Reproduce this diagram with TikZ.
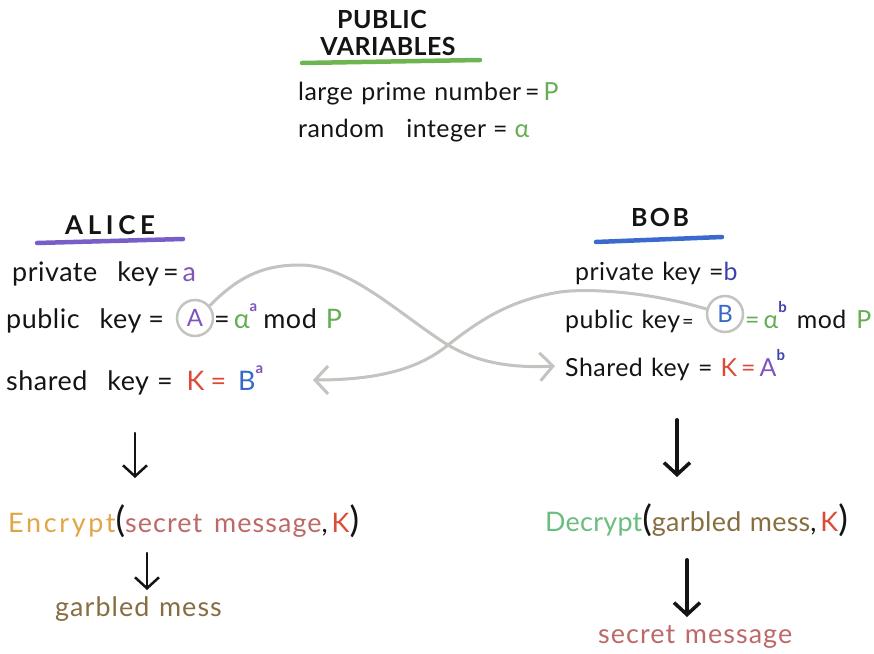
\documentclass[tikz,border=0pt]{standalone}
\usepackage{fontspec}
\setmainfont[WordSpace=1.2,LetterSpace=2]{Lato}
\usetikzlibrary{arrows.meta}
\definecolor{pgreen}{RGB}{100,175,85}
\definecolor{apurple}{RGB}{125,85,190}
\definecolor{bblue}{RGB}{55,105,200}
\definecolor{bnavy}{RGB}{60,65,175}
\definecolor{kred}{RGB}{220,75,55}
\definecolor{encorange}{RGB}{225,165,70}
\definecolor{msgpink}{RGB}{190,105,105}
\definecolor{garbrown}{RGB}{135,110,65}
\definecolor{decgreen}{RGB}{105,190,125}
\definecolor{curvegray}{RGB}{195,195,192}
\definecolor{ink}{RGB}{20,20,20}
\definecolor{ulgreen}{RGB}{110,180,80}
\definecolor{ulpurple}{RGB}{120,95,200}
\definecolor{ulblue}{RGB}{60,105,205}
\newcommand{\sups}[1]{\raisebox{0.62em}{\fontsize{15}{15}\selectfont\bfseries #1}}
\newcommand{\bigpar}[1]{{\fontsize{36}{36}\selectfont #1}}
\newcommand{\gap}{\hspace{12bp}}
\newcommand{\wgap}{\hspace{20bp}}
\newcommand{\tq}{\kern4bp}
\tikzset{
  txt/.style={anchor=base west, inner sep=0pt, text=ink, font=\fontsize{27}{30}\selectfont},
  btxt/.style={txt, font=\fontsize{25}{29}\selectfont},
  pubtxt/.style={txt, font=\fontsize{25}{28}\selectfont},
  lowtxt/.style={txt, font=\fontsize{27}{30}\selectfont\addfontfeature{LetterSpace=4}},
  dectxt/.style={txt, font=\fontsize{27}{30}\selectfont\addfontfeature{LetterSpace=1}},
  ttl/.style={anchor=base, inner sep=0pt, text=ink, font=\fontsize{25}{29}\selectfont\bfseries},
  circ/.style={draw=curvegray, line width=2.5bp, circle, minimum size=36bp, inner sep=0pt, font=\fontsize{24}{28}\selectfont},
  blk/.style={draw=ink, line width=2.5bp, line cap=round, -{Straight Barb[length=11bp,width=24bp,line width=2.5bp]}},
  blkthick/.style={blk, line width=4bp, -{Straight Barb[length=12bp,width=26bp,line width=3.5bp]}},
  gcurve/.style={draw=curvegray, line width=3bp, line cap=round, -{Straight Barb[length=13bp,width=28bp,line width=3bp]}},
  uline/.style={line width=4.5bp, line cap=round}
}
\begin{document}
\begin{tikzpicture}[x=1bp,y=-1bp]
\useasboundingbox[fill=white] (0,0) rectangle (874,654);
% public variables
\node[ttl] (pubt) at (382,29) {PUBLIC};
\node[ttl] (vart) at (388,56) {VARIABLES};
\draw[uline, draw=ulgreen] (302,63) -- (480,60);
\node[pubtxt] (pub1) at (298,101) {large prime number\tq=\tq\textcolor{pgreen}{P}};
\node[pubtxt] (pub2) at (298,138) {random\hspace{22bp}integer\kern7bp=\kern7bp\textcolor{pgreen}{α}};
% Alice
\node[ttl, font=\fontsize{26}{29}\selectfont\bfseries\addfontfeature{LetterSpace=18}] (alice) at (110,234) {ALICE};
\draw[uline, draw=ulpurple] (37,243) -- (183,239);
\node[txt] (apriv) at (12,281) {private\wgap key\tq=\tq\textcolor{apurple}{a}};
\node[txt] (apubl) at (6,328) {public\wgap key\kern7bp=};
\node[circ] (Acirc) at (195,318) {\textcolor{apurple}{A}};
\node[txt] (apubr) at (214,328) {=\tq\textcolor{pgreen}{α}\sups{\textcolor{apurple}{a}}\kern6bp mod\kern9bp\textcolor{pgreen}{P}};
\node[txt] (ashared) at (6,390) {shared\wgap key\hspace{8bp}=\hspace{14bp}\textcolor{kred}{K\kern6bp=}\kern12bp\textcolor{bblue}{B}\sups{\textcolor{apurple}{a}}};
\coordinate (a1s) at (135,433);
\coordinate (a1e) at (135,478);
\draw[blk] (a1s) -- (a1e);
\node[lowtxt] (enc) at (8,532) {\textcolor{encorange}{\addfontfeature{LetterSpace=10}Encrypt}\bigpar{(}\textcolor{msgpink}{secret\gap message},\tq\textcolor{kred}{K}\bigpar{)}};
\coordinate (a2s) at (147,553);
\coordinate (a2e) at (147,590);
\draw[blk] (a2s) -- (a2e);
\node[lowtxt] (garb) at (55,616) {\textcolor{garbrown}{garbled mess}};
% Bob
\node[ttl, font=\fontsize{25}{29}\selectfont\bfseries\addfontfeature{LetterSpace=10}] (bob) at (660,226) {BOB};
\draw[uline, draw=ulblue] (596,242) -- (722,237);
\node[btxt] (bpriv) at (575,280) {private key =\textcolor{bnavy}{b}};
\node[btxt] (bpubl) at (565,328) {public key\kern2bp{\fontsize{20}{20}\selectfont=}};
\node[circ] (Bcirc) at (725,314) {\textcolor{bblue}{B}};
\node[btxt] (bpubr) at (745,328) {\textcolor{pgreen}{=\tq α}\sups{\textcolor{bnavy}{b}}\kern10bp mod\kern10bp\textcolor{pgreen}{P}};
\node[btxt] (bshared) at (565,376) {Shared key = \textcolor{kred}{K\tq=}\tq\textcolor{apurple}{A}\sups{\textcolor{bnavy}{b}}};
\coordinate (b1s) at (677,420);
\coordinate (b1e) at (677,477);
\draw[blkthick] (b1s) -- (b1e);
\node[dectxt] (dec) at (545,531) {\textcolor{decgreen}{Decrypt}\bigpar{(}\textcolor{garbrown}{garbled mess},\tq\textcolor{kred}{K}\bigpar{)}};
\coordinate (b2s) at (687,560);
\coordinate (b2e) at (687,617);
\draw[blkthick] (b2s) -- (b2e);
\node[lowtxt] (bsec) at (598,643) {\textcolor{msgpink}{secret message}};
% exchange curves
\coordinate (toBob) at (555,366);
\coordinate (toAlice) at (313,380);
\draw[gcurve] (Acirc.40) .. controls (240,275) and (265,265) .. (300,265)
   .. controls (350,265) and (400,315) .. (448,345)
   .. controls (480,364) and (515,368) .. (toBob);
\draw[gcurve] (Bcirc.165) .. controls (650,292) and (590,288) .. (560,292)
   .. controls (510,300) and (480,320) .. (448,345)
   .. controls (420,368) and (380,380) .. (toAlice);
\end{tikzpicture}
\end{document}
